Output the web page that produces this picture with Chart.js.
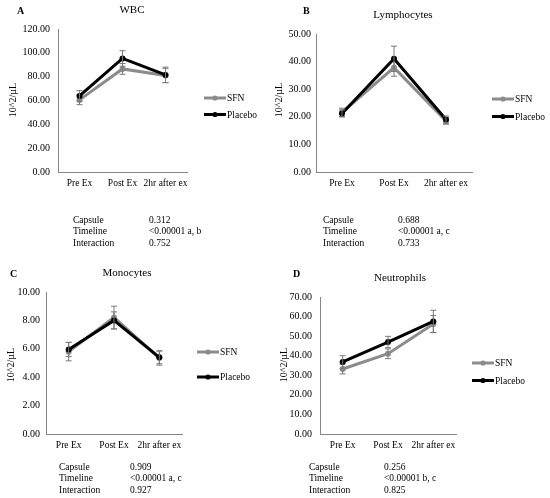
<!DOCTYPE html>
<html>
<head>
<meta charset="utf-8">
<script src="https://cdn.jsdelivr.net/npm/chart.js@4.4.0/dist/chart.umd.min.js"></script>
<style>
    html, body { margin: 0; padding: 0; background: #fff; }
    #page { position: relative; width: 550px; height: 498px; overflow: hidden; }
    .panel { position: absolute; width: 275px; height: 249px; }
</style>
</head>
<body>
<div id="page">
    <div class="panel" style="left:0;top:0"><canvas id="chartA"></canvas></div>
    <div class="panel" style="left:275px;top:0"><canvas id="chartB"></canvas></div>
    <div class="panel" style="left:0;top:249px"><canvas id="chartC"></canvas></div>
    <div class="panel" style="left:275px;top:249px"><canvas id="chartD"></canvas></div>
</div>
<script>
// Time points shared by all four panels
const categories = ['Pre Ex', 'Post Ex', '2hr after ex'];

// WBC
const wbcSfn = [60.5, 86.5, 81.0];
const wbcSfnErr = [4.0, 4.5, 6.0];
const wbcPlacebo = [63.8, 95.3, 81.5];
const wbcPlaceboErr = [4.5, 6.5, 6.5];
const wbcTicks = [0, 20, 40, 60, 80, 100, 120];

// Lymphocytes
const lymSfn = [21.6, 37.8, 18.5];
const lymSfnErr = [1.5, 3.1, 1.2];
const lymPlacebo = [21.2, 41.0, 19.0];
const lymPlaceboErr = [1.3, 4.6, 1.3];
const lymTicks = [0, 10, 20, 30, 40, 50];

// Monocytes
const monSfn = [5.8, 8.2, 5.35];
const monSfnErr = [0.65, 0.8, 0.5];
const monPlacebo = [5.95, 8.0, 5.4];
const monPlaceboErr = [0.5, 0.6, 0.45];
const monTicks = [0, 2, 4, 6, 8, 10];

// Neutrophils
const neuSfn = [33.2, 41.0, 56.2];
const neuSfnErr = [2.5, 2.5, 4.3];
const neuPlacebo = [36.8, 47.0, 57.5];
const neuPlaceboErr = [3.2, 2.9, 5.7];
const neuTicks = [0, 10, 20, 30, 40, 50, 60, 70];

// Stats text under each panel
const statLabels = ['Capsule', 'Timeline', 'Interaction'];
const wbcStats = ['0.312', '<0.00001 a, b', '0.752'];
const lymStats = ['0.688', '<0.00001 a, c', '0.733'];
const monStats = ['0.909', '<0.00001 a, c', '0.927'];
const neuStats = ['0.256', '<0.00001 b, c', '0.825'];

const FONT = "'Liberation Serif', 'Times New Roman', serif";
const SFN_COLOR = '#8c8c8c';
const PLACEBO_COLOR = '#000000';
const AXIS_COLOR = '#868686';
const ERR_COLOR = '#7a7a7a';
const Y_WIDTH = 40;
const X_HEIGHT = 20;

// error bars + caps, drawn per series so the black line sits over the grey bars
const errorBars = {
    id: 'errorBars',
    afterDatasetDraw(chart, args) {
        const ds = chart.data.datasets[args.index];
        if (!ds.errors) return;
        const ctx = chart.ctx;
        const y = chart.scales.y;
        ctx.save();
        ctx.strokeStyle = ERR_COLOR;
        ctx.lineWidth = 1;
        args.meta.data.forEach((pt, i) => {
            const v = ds.data[i], e = ds.errors[i];
            const top = y.getPixelForValue(v + e);
            const bot = y.getPixelForValue(v - e);
            ctx.beginPath();
            ctx.moveTo(pt.x, top); ctx.lineTo(pt.x, bot);
            ctx.moveTo(pt.x - 3, top); ctx.lineTo(pt.x + 3, top);
            ctx.moveTo(pt.x - 3, bot); ctx.lineTo(pt.x + 3, bot);
            ctx.stroke();
        });
        ctx.restore();
    }
};

// panel letter, title, y title, legend and stats
const decor = {
    id: 'decor',
    afterDraw(chart, args, o) {
        const ctx = chart.ctx;
        ctx.save();
        ctx.fillStyle = '#000';
        ctx.textBaseline = 'middle';

        ctx.font = 'bold 10px ' + FONT;
        ctx.textAlign = 'left';
        ctx.fillText(o.letter, o.letterPos[0], o.letterPos[1]);

        ctx.font = '11px ' + FONT;
        ctx.textAlign = 'center';
        ctx.fillText(o.title, o.titlePos[0], o.titlePos[1]);

        ctx.save();
        ctx.translate(o.yTitlePos[0], o.yTitlePos[1]);
        ctx.rotate(-Math.PI / 2);
        ctx.font = '10px ' + FONT;
        ctx.fillText('10^2/µL', 0, 0);
        ctx.restore();

        // legend: short line with a dot in the middle
        ctx.font = '9.5px ' + FONT;
        ctx.textAlign = 'left';
        const leg = [['SFN', SFN_COLOR], ['Placebo', PLACEBO_COLOR]];
        leg.forEach((item, i) => {
            const lx = o.legendPos[0], ly = o.legendPos[1] + i * o.legendGap;
            ctx.strokeStyle = item[1];
            ctx.fillStyle = item[1];
            ctx.lineWidth = 3;
            ctx.beginPath();
            ctx.moveTo(lx, ly); ctx.lineTo(lx + 22, ly);
            ctx.stroke();
            ctx.beginPath();
            ctx.arc(lx + 11, ly, 2.6, 0, Math.PI * 2);
            ctx.fill();
            ctx.fillStyle = '#000';
            ctx.fillText(item[0], lx + 23, ly + 0.5);
        });

        ctx.font = '9.5px ' + FONT;
        statLabels.forEach((lab, i) => {
            const sy = o.statsPos[1] + i * 11.7;
            ctx.fillText(lab, o.statsPos[0], sy);
            ctx.fillText(o.stats[i], o.statsPos[2], sy);
        });
        ctx.restore();
    }
};

const makeChart = (id, p) => {
    const ctx = document.getElementById(id);
    return new Chart(ctx, {
        type: 'line',
        data: {
            labels: categories,
            datasets: [{
                label: 'SFN',
                data: p.sfn,
                errors: p.sfnErr,
                borderColor: SFN_COLOR,
                backgroundColor: SFN_COLOR,
                borderWidth: 3,
                pointRadius: 3,
                pointBorderWidth: 0,
                tension: 0,
                order: 2
            }, {
                label: 'Placebo',
                data: p.placebo,
                errors: p.placeboErr,
                borderColor: PLACEBO_COLOR,
                backgroundColor: PLACEBO_COLOR,
                borderWidth: 3,
                pointRadius: 3,
                pointBorderWidth: 0,
                tension: 0,
                order: 1
            }]
        },
        options: {
            responsive: true,
            maintainAspectRatio: false,
            animation: false,
            layout: {
                padding: {
                    left: p.area[0] - p.origin[0] - Y_WIDTH,
                    right: p.origin[0] + 275 - p.area[1],
                    top: p.area[2] - p.origin[1],
                    bottom: p.origin[1] + 249 - p.area[3] - X_HEIGHT
                }
            },
            plugins: {
                legend: { display: false },
                tooltip: { enabled: false },
                decor: p.decor
            },
            scales: {
                x: {
                    type: 'category',
                    offset: true,
                    grid: { display: false, drawTicks: false },
                    border: { display: true, color: AXIS_COLOR, width: 1 },
                    ticks: {
                        color: '#000', font: { family: FONT, size: 9.5 },
                        padding: 6, maxRotation: 0, minRotation: 0, autoSkip: false
                    },
                    afterFit: (s) => { s.height = X_HEIGHT; }
                },
                y: {
                    min: p.ticks[0],
                    max: p.ticks[p.ticks.length - 1],
                    grid: { display: false, drawTicks: false },
                    border: { display: true, color: AXIS_COLOR, width: 1 },
                    afterBuildTicks: (s) => { s.ticks = p.ticks.map(v => ({ value: v })); },
                    ticks: {
                        color: '#000', font: { family: FONT, size: 10 },
                        padding: p.tickPad,
                        callback: (v) => Number(v).toFixed(2)
                    },
                    afterFit: (s) => { s.width = Y_WIDTH; }
                }
            }
        },
        plugins: [errorBars, decor]
    });
};

// page coordinates of each plot area: [left, right, top, bottom]
makeChart('chartA', {
    sfn: wbcSfn, sfnErr: wbcSfnErr, placebo: wbcPlacebo, placeboErr: wbcPlaceboErr, ticks: wbcTicks,
    origin: [0, 0], area: [58, 187, 29, 172], tickPad: 8,
    decor: {
        letter: 'A', letterPos: [17, 11], title: 'WBC', titlePos: [132, 10],
        yTitlePos: [13, 100], legendPos: [204, 98], legendGap: 16.5,
        stats: wbcStats, statsPos: [73, 220, 149]
    }
});
makeChart('chartB', {
    sfn: lymSfn, sfnErr: lymSfnErr, placebo: lymPlacebo, placeboErr: lymPlaceboErr, ticks: lymTicks,
    origin: [275, 0], area: [316, 472, 34, 172], tickPad: 5,
    decor: {
        letter: 'B', letterPos: [28, 11], title: 'Lymphocytes', titlePos: [128, 15],
        yTitlePos: [4, 100], legendPos: [217, 99], legendGap: 17.5,
        stats: lymStats, statsPos: [48, 220, 123]
    }
});
makeChart('chartC', {
    sfn: monSfn, sfnErr: monSfnErr, placebo: monPlacebo, placeboErr: monPlaceboErr, ticks: monTicks,
    origin: [0, 249], area: [46, 182, 292, 434], tickPad: 6,
    decor: {
        letter: 'C', letterPos: [10, 25], title: 'Monocytes', titlePos: [127, 24],
        yTitlePos: [11, 116], legendPos: [197, 103], legendGap: 25,
        stats: monStats, statsPos: [59, 218, 130]
    }
});
makeChart('chartD', {
    sfn: neuSfn, sfnErr: neuSfnErr, placebo: neuPlacebo, placeboErr: neuPlaceboErr, ticks: neuTicks,
    origin: [275, 249], area: [320, 456, 297, 434], tickPad: 8,
    decor: {
        letter: 'D', letterPos: [18, 25], title: 'Neutrophils', titlePos: [125, 29],
        yTitlePos: [9, 116], legendPos: [197, 114], legendGap: 17.5,
        stats: neuStats, statsPos: [34, 218, 109]
    }
});
</script>
</body>
</html>
